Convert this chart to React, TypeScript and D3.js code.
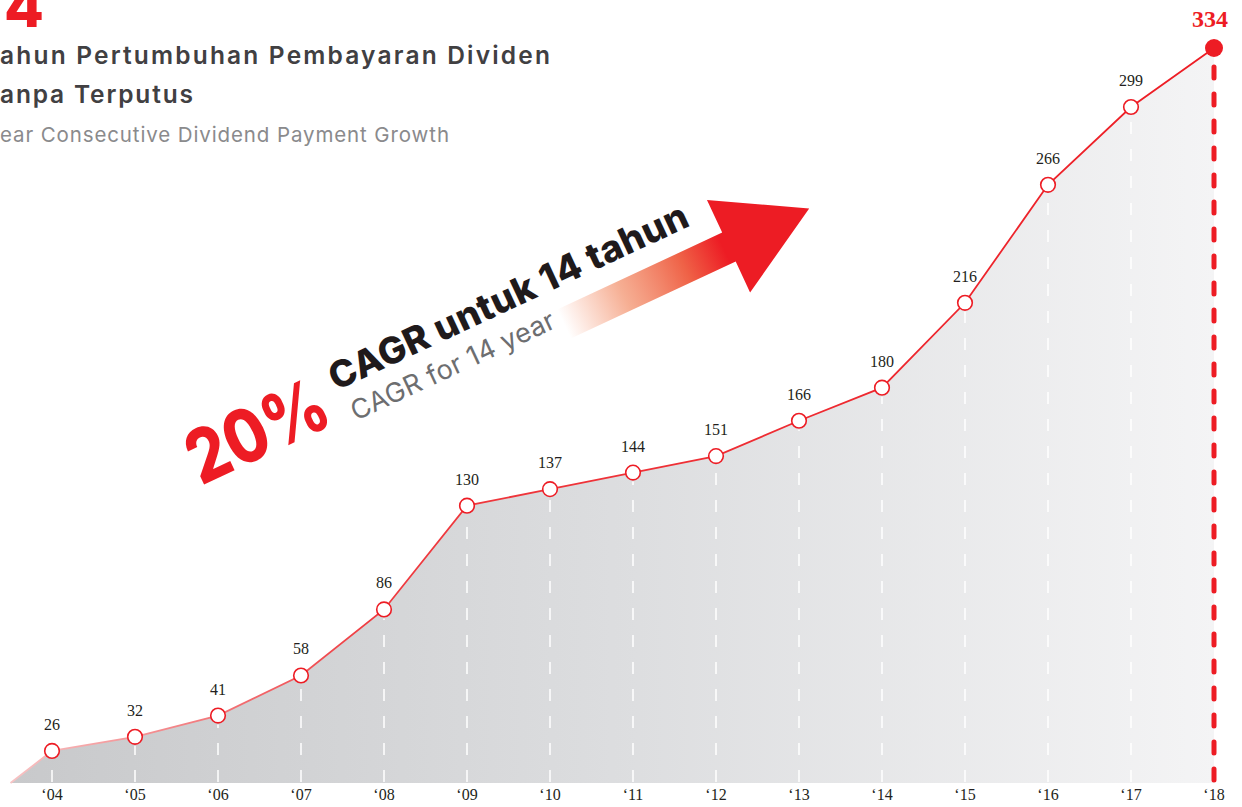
import React, { useEffect } from "react";
import * as d3 from "d3";

const years = ["04", "05", "06", "07", "08", "09", "10", "11", "12", "13", "14", "15", "16", "17", "18"];
const values = [26, 32, 41, 58, 86, 130, 137, 144, 151, 166, 180, 216, 266, 299, 334];
const titleNumber = "4";
const titleLines = ["ahun Pertumbuhan Pembayaran Dividen", "anpa Terputus"];
const subtitle = "ear Consecutive Dividend Payment Growth";
const cagrValue = "20%";
const cagrMain = "CAGR untuk 14 tahun";
const cagrSub = "CAGR for 14 year";

const W = 1242;
const H = 807;
const RED = "#ed1c24";
const BASE = 783;

export default function App() {
  useEffect(() => {
    document.body.style.margin = "0";
  }, []);

  const x = d3.scalePoint<string>().domain(years).range([52, 1214]);
  const y = d3.scaleLinear().domain([0, 299, 334]).range([812.3, 107, 48]);
  const step = x.step();

  const pts: [number, number][] = years.map((yr, i) => [x(yr) as number, y(values[i])]);
  const startPt: [number, number] = [pts[0][0] - step / 2, BASE];
  const all = [startPt, ...pts];

  const area = d3
    .area<[number, number]>()
    .x((d) => d[0])
    .y0(BASE)
    .y1((d) => d[1]);
  const line = d3
    .line<[number, number]>()
    .x((d) => d[0])
    .y((d) => d[1]);

  const last = pts.length - 1;
  const serif = "'Liberation Serif', 'DejaVu Serif', serif";
  const sans = "Inter, 'Open Sans', sans-serif";

  return (
    <svg width={W} height={H} style={{ display: "block" }}>
      <defs>
        <linearGradient id="areaGrad" gradientUnits="userSpaceOnUse" x1={startPt[0]} x2={pts[last][0]} y1={0} y2={0}>
          <stop offset="0" stopColor="#c8c9cb" />
          <stop offset="0.5" stopColor="#dcdddf" />
          <stop offset="1" stopColor="#f4f4f5" />
        </linearGradient>
        <linearGradient id="lineGrad" gradientUnits="userSpaceOnUse" x1={startPt[0]} x2={pts[last][0]} y1={0} y2={0}>
          <stop offset="0" stopColor="#f7c3c4" />
          <stop offset="0.3" stopColor="#ef3b40" />
          <stop offset="1" stopColor={RED} />
        </linearGradient>
        <linearGradient id="arrowGrad" gradientUnits="userSpaceOnUse" x1={0} x2={190} y1={0} y2={0}>
          <stop offset="0" stopColor="#f7a080" stopOpacity="0" />
          <stop offset="0.35" stopColor="#f4a080" stopOpacity="0.85" />
          <stop offset="0.7" stopColor="#ef6247" />
          <stop offset="0.93" stopColor={RED} />
        </linearGradient>
      </defs>

      {/* title */}
      <text x={4} y={27} fontFamily={sans} fontWeight={800} fontSize={58} fill={RED}>
        {titleNumber}
      </text>
      <text x={0} y={64} fontFamily={sans} fontWeight={600} fontSize={24.5} fill="#414042" textLength={550} lengthAdjust="spacing">
        {titleLines[0]}
      </text>
      <text x={0} y={103} fontFamily={sans} fontWeight={600} fontSize={24.5} fill="#414042" textLength={193} lengthAdjust="spacing">
        {titleLines[1]}
      </text>
      <text x={0} y={142} fontFamily={sans} fontWeight={400} fontSize={20.5} fill="#8a8a8c" textLength={449} lengthAdjust="spacing">
        {subtitle}
      </text>

      {/* area */}
      <path d={area(all) || ""} fill="url(#areaGrad)" />

      {/* white dashed gridlines */}
      {pts.slice(0, last).map((p, i) => (
        <line
          key={"g" + i}
          x1={p[0]}
          x2={p[0]}
          y1={BASE - 1}
          y2={p[1] + 9}
          stroke="#ffffff"
          strokeWidth={1.5}
          strokeDasharray="12 15"
        />
      ))}

      {/* red dashed line at last year */}
      <line
        x1={pts[last][0]}
        x2={pts[last][0]}
        y1={BASE - 3}
        y2={pts[last][1] + 12}
        stroke={RED}
        strokeWidth={5}
        strokeLinecap="round"
        strokeDasharray="11 16"
      />

      {/* line */}
      <path d={line(all) || ""} fill="none" stroke="url(#lineGrad)" strokeWidth={1.8} />

      {/* points */}
      {pts.map((p, i) =>
        i === last ? (
          <circle key={"c" + i} cx={p[0]} cy={p[1]} r={9} fill={RED} />
        ) : (
          <circle key={"c" + i} cx={p[0]} cy={p[1]} r={7.3} fill="#ffffff" stroke={RED} strokeWidth={1.6} />
        )
      )}

      {/* value labels */}
      {pts.map((p, i) =>
        i === last ? (
          <text
            key={"v" + i}
            x={p[0] - 4}
            y={p[1] - 21}
            textAnchor="middle"
            fontFamily={serif}
            fontWeight={700}
            fontSize={24}
            fill={RED}
          >
            {values[i]}
          </text>
        ) : (
          <text
            key={"v" + i}
            x={p[0]}
            y={p[1] - 21}
            textAnchor="middle"
            fontFamily={serif}
            fontSize={16}
            fill="#231f20"
          >
            {values[i]}
          </text>
        )
      )}

      {/* x axis labels */}
      {years.map((yr) => (
        <text
          key={"x" + yr}
          x={x(yr) as number}
          y={800}
          textAnchor="middle"
          fontFamily={serif}
          fontSize={16}
          fill="#231f20"
        >
          {"\u2018" + yr}
        </text>
      ))}

      {/* CAGR annotation */}
      <g transform="translate(564,324) rotate(-25)">
        <path
          d="M0,-16 L182,-16 L182,-52 L271,-1 L182,50 L182,16 L0,16 Z"
          fill="url(#arrowGrad)"
        />
      </g>
      <text
        transform="translate(201,486) rotate(-25)"
        fontFamily={sans}
        fontWeight={800}
        fontSize={74}
        fill={RED}
        textLength={148}
        lengthAdjust="spacingAndGlyphs"
      >
        {cagrValue}
      </text>
      <text
        transform="translate(336,391) rotate(-25)"
        fontFamily={sans}
        fontWeight={800}
        fontSize={37}
        fill="#1f1a1b"
        textLength={392}
        lengthAdjust="spacing"
      >
        {cagrMain}
      </text>
      <text
        transform="translate(356,421) rotate(-25)"
        fontFamily={sans}
        fontWeight={400}
        fontSize={27}
        fill="#6d6e70"
        textLength={222}
        lengthAdjust="spacing"
      >
        {cagrSub}
      </text>
    </svg>
  );
}
